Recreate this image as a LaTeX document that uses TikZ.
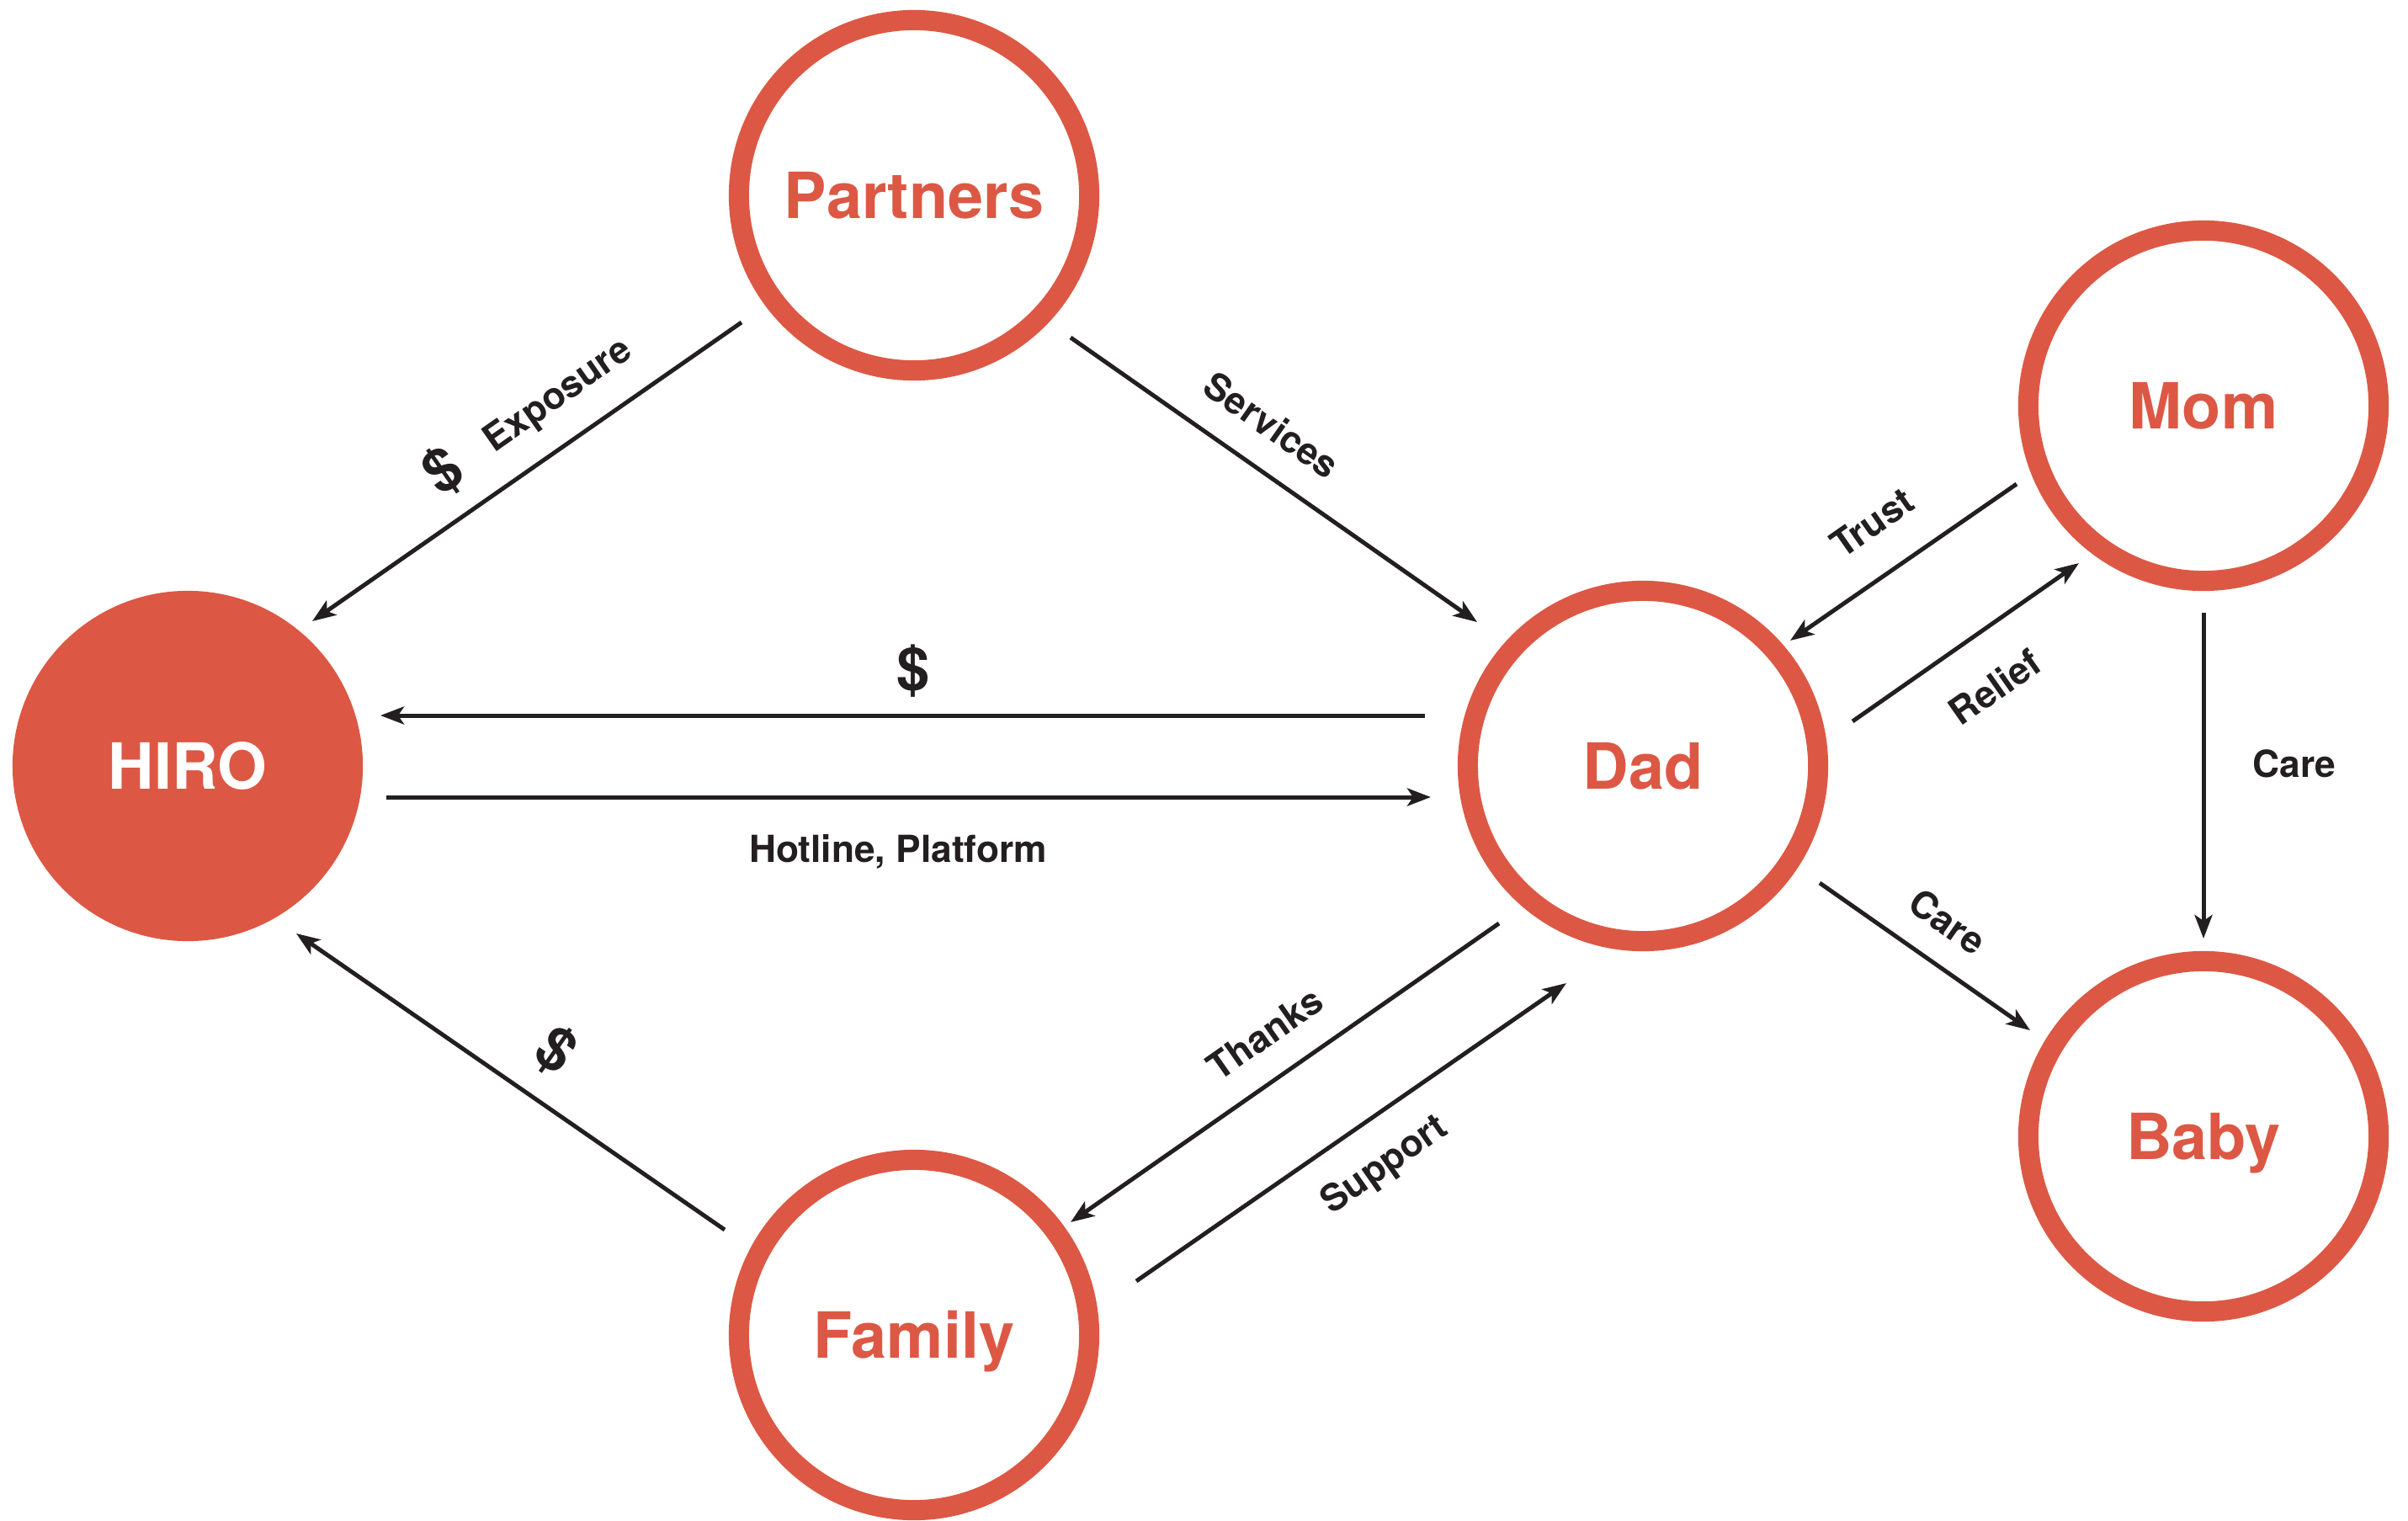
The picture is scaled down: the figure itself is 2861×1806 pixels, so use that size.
\documentclass[tikz,border=0pt]{standalone}
\usepackage{fontspec}
\setmainfont{TeX Gyre Heros}
\usetikzlibrary{arrows.meta}
\definecolor{hred}{RGB}{220,88,68}
\definecolor{ink}{RGB}{35,31,32}
\tikzset{
  ring/.style={circle, draw=hred, line width=0.24cm, minimum size=4.16cm,
    inner sep=0pt, outer sep=0pt, text=hred,
    font=\fontsize{21.5}{25}\selectfont\bfseries, text height=15.4pt, text depth=0pt},
  core/.style={circle, fill=hred, minimum size=4.16cm, inner sep=0pt, outer sep=0pt,
    text=white, font=\fontsize{21.5}{25}\selectfont\bfseries, text height=15.4pt, text depth=0pt},
  flow/.style={draw=ink, line width=1.42pt,
    -{Stealth[length=0.28cm,width=0.21cm,inset=0.07cm]}},
  lbl/.style={text=ink, font=\fontsize{12.6}{15}\selectfont\bfseries, inner sep=0pt},
  dollar/.style={text=ink, font=\fontsize{20}{22}\selectfont\bfseries, inner sep=0pt},
}
\begin{document}
\begin{tikzpicture}[x=0.01cm,y=-0.01cm]
\useasboundingbox (0,0) rectangle (2861,1806);
% nodes
\node[core] (hiro) at (223,910) {HIRO};
\node[ring] (partners) at (1086,232) {Partners};
\node[ring] (dad) at (1952,910) {Dad};
\node[ring] (mom) at (2618,482) {Mom};
\node[ring] (baby) at (2618,1350) {Baby};
\node[ring] (family) at (1086,1586) {Family};
% connectors
\draw[flow] ([shift={(-205,151)}]partners.center) -- ([shift={(148,-172)}]hiro.center);
\draw[flow] ([shift={(186,169)}]partners.center) -- ([shift={(-197,-171)}]dad.center);
\draw[flow] ([shift={(-259,-60)}]dad.center) -- ([shift={(229,-60)}]hiro.center);
\draw[flow] ([shift={(236,37)}]hiro.center) -- ([shift={(-252,37)}]dad.center);
\draw[flow] ([shift={(-225,-125)}]family.center) -- ([shift={(129,199)}]hiro.center);
\draw[flow] ([shift={(-171,187)}]dad.center) -- ([shift={(186,-134)}]family.center);
\draw[flow] ([shift={(264,-64)}]family.center) -- ([shift={(-91,258)}]dad.center);
\draw[flow] ([shift={(-222,93)}]mom.center) -- ([shift={(175,-149)}]dad.center);
\draw[flow] ([shift={(249,-53)}]dad.center) -- ([shift={(-148,187)}]mom.center);
\draw[flow] ([shift={(0,246)}]mom.center) -- ([shift={(0,-235)}]baby.center);
\draw[flow] ([shift={(210,139)}]dad.center) -- ([shift={(-206,-126)}]baby.center);
% labels
\node[dollar, rotate=35] (d1) at (527,560) {\$};
\node[lbl, rotate=35] (l1) at (664,471) {Exposure};
\node[lbl, rotate=-35] (l2) at (1511,505) {Services};
\node[dollar] (d2) at (1085,797) {\$};
\node[lbl] (l3) at (1067,1012) {Hotline, Platform};
\node[dollar, rotate=-35] (d3) at (660,1248) {\$};
\node[lbl, rotate=35] (l4) at (1503,1228) {Thanks};
\node[lbl, rotate=35] (l5) at (1646,1385) {Support};
\node[lbl, rotate=35] (l6) at (2224,621) {Trust};
\node[lbl, rotate=35] (l7) at (2370,816) {Relief};
\node[lbl] (l8) at (2726,907) {Care};
\node[lbl, rotate=-35] (l9) at (2314,1095) {Care};
\end{tikzpicture}
\end{document}
